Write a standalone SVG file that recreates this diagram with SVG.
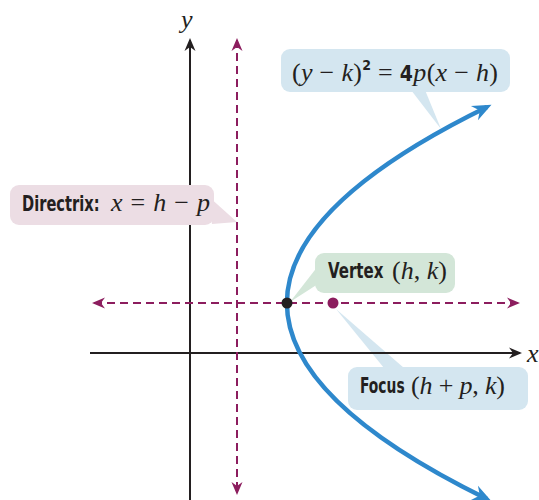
<svg xmlns="http://www.w3.org/2000/svg" width="539" height="500" viewBox="0 0 539 500">
<style>
.axis{stroke:#231f20;stroke-width:2;fill:none}
.dash{stroke:#8c1d5e;stroke-width:2;stroke-dasharray:8 5;fill:none}
.curve{stroke:#2e88cc;stroke-width:4.5;fill:none}
.lbl{font-family:"DejaVu Sans Condensed","Liberation Sans Narrow","Liberation Sans",sans-serif;font-weight:bold;font-size:22px;fill:#231f20}
.m{font-family:"Liberation Serif","DejaVu Serif",serif;font-size:26px;fill:#231f20}
.i{font-style:italic}
.b{font-family:"DejaVu Sans Condensed","Liberation Sans",sans-serif;font-weight:bold}
.blue{fill:#d4e6f0}
.pink{fill:#ecdde4}
.green{fill:#d3e6d8}
</style>
<defs>
<marker id="ak" markerUnits="userSpaceOnUse" markerWidth="16" markerHeight="14" viewBox="-14 -7 16 14" refX="-2" refY="0" orient="auto-start-reverse"><path d="M0,0 L-13,-5.5 L-9,0 L-13,5.5 Z" fill="#231f20"/></marker>
<marker id="am" markerUnits="userSpaceOnUse" markerWidth="16" markerHeight="14" viewBox="-14 -7 16 14" refX="-2" refY="0" orient="auto-start-reverse"><path d="M0,0 L-13,-5.5 L-9,0 L-13,5.5 Z" fill="#8c1d5e"/></marker>
<marker id="ab" markerUnits="userSpaceOnUse" markerWidth="24" markerHeight="20" viewBox="-22 -10 24 20" refX="-5" refY="0" orient="auto-start-reverse"><path d="M0,0 L-19,-8 L-13,0 L-19,8 Z" fill="#2e88cc"/></marker>
</defs>

<g id="focus-tail"><polygon class="blue" points="336,309 384,368 404,368"/></g>

<g id="connectors">
<line class="axis" x1="190" y1="500" x2="190" y2="40" marker-end="url(#ak)"/>
<line class="axis" x1="90" y1="353" x2="520" y2="353" marker-end="url(#ak)"/>
<line class="dash" x1="237" y1="40" x2="237" y2="493" marker-start="url(#am)" marker-end="url(#am)"/>
<line class="dash" x1="94" y1="303" x2="518" y2="303" marker-start="url(#am)" marker-end="url(#am)"/>
<path id="parabola" class="curve" d="M487,107 Q86.8,303 487,499" marker-start="url(#ab)" marker-end="url(#ab)"/>
</g>

<g id="axis-labels">
<text class="m i" x="181" y="28" font-size="24">y</text>
<text class="m i" x="527" y="362">x</text>
</g>

<g id="equation">
<polygon class="blue" points="411,90 425,90 441,129"/>
<rect class="blue" x="281" y="49" width="229" height="43" rx="9"/>
<text class="m" x="292" y="81" textLength="206" lengthAdjust="spacing">(<tspan class="i">y</tspan> − <tspan class="i">k</tspan>)<tspan class="b" font-size="14" dy="-11">2</tspan><tspan dy="11"> = </tspan><tspan class="b" font-size="21">4</tspan><tspan class="i">p</tspan>(<tspan class="i">x</tspan> − <tspan class="i">h</tspan>)</text>
</g>

<g id="directrix">
<polygon class="pink" points="208,196 237,222 212,224"/>
<rect class="pink" x="10" y="185" width="204" height="40" rx="9"/>
<text class="lbl" transform="translate(22,211) scale(0.74,1)" font-size="23">Directrix:</text>
<text class="m" x="111" y="211" textLength="99" lengthAdjust="spacing"><tspan class="i">x</tspan> = <tspan class="i">h</tspan> − <tspan class="i">p</tspan></text>
</g>

<g id="vertex">
<polygon class="green" points="318,266 318,284 290,302"/>
<rect class="green" x="315" y="253" width="140" height="40" rx="9"/>
<text class="lbl" transform="translate(328,278) scale(0.76,1)">Vertex</text>
<text class="m" x="392" y="279" textLength="55" lengthAdjust="spacing">(<tspan class="i">h</tspan>, <tspan class="i">k</tspan>)</text>
<circle cx="287" cy="303" r="5.5" fill="#231f20"/>
</g>

<g id="focus">
<rect class="blue" x="348" y="367" width="180" height="43" rx="9"/>
<text class="lbl" transform="translate(360,393) scale(0.7,1)">Focus</text>
<text class="m" x="411" y="394" textLength="94" lengthAdjust="spacing">(<tspan class="i">h</tspan> + <tspan class="i">p</tspan>, <tspan class="i">k</tspan>)</text>
<circle cx="333" cy="303" r="5.5" fill="#8c1d5e"/>
</g>
</svg>
